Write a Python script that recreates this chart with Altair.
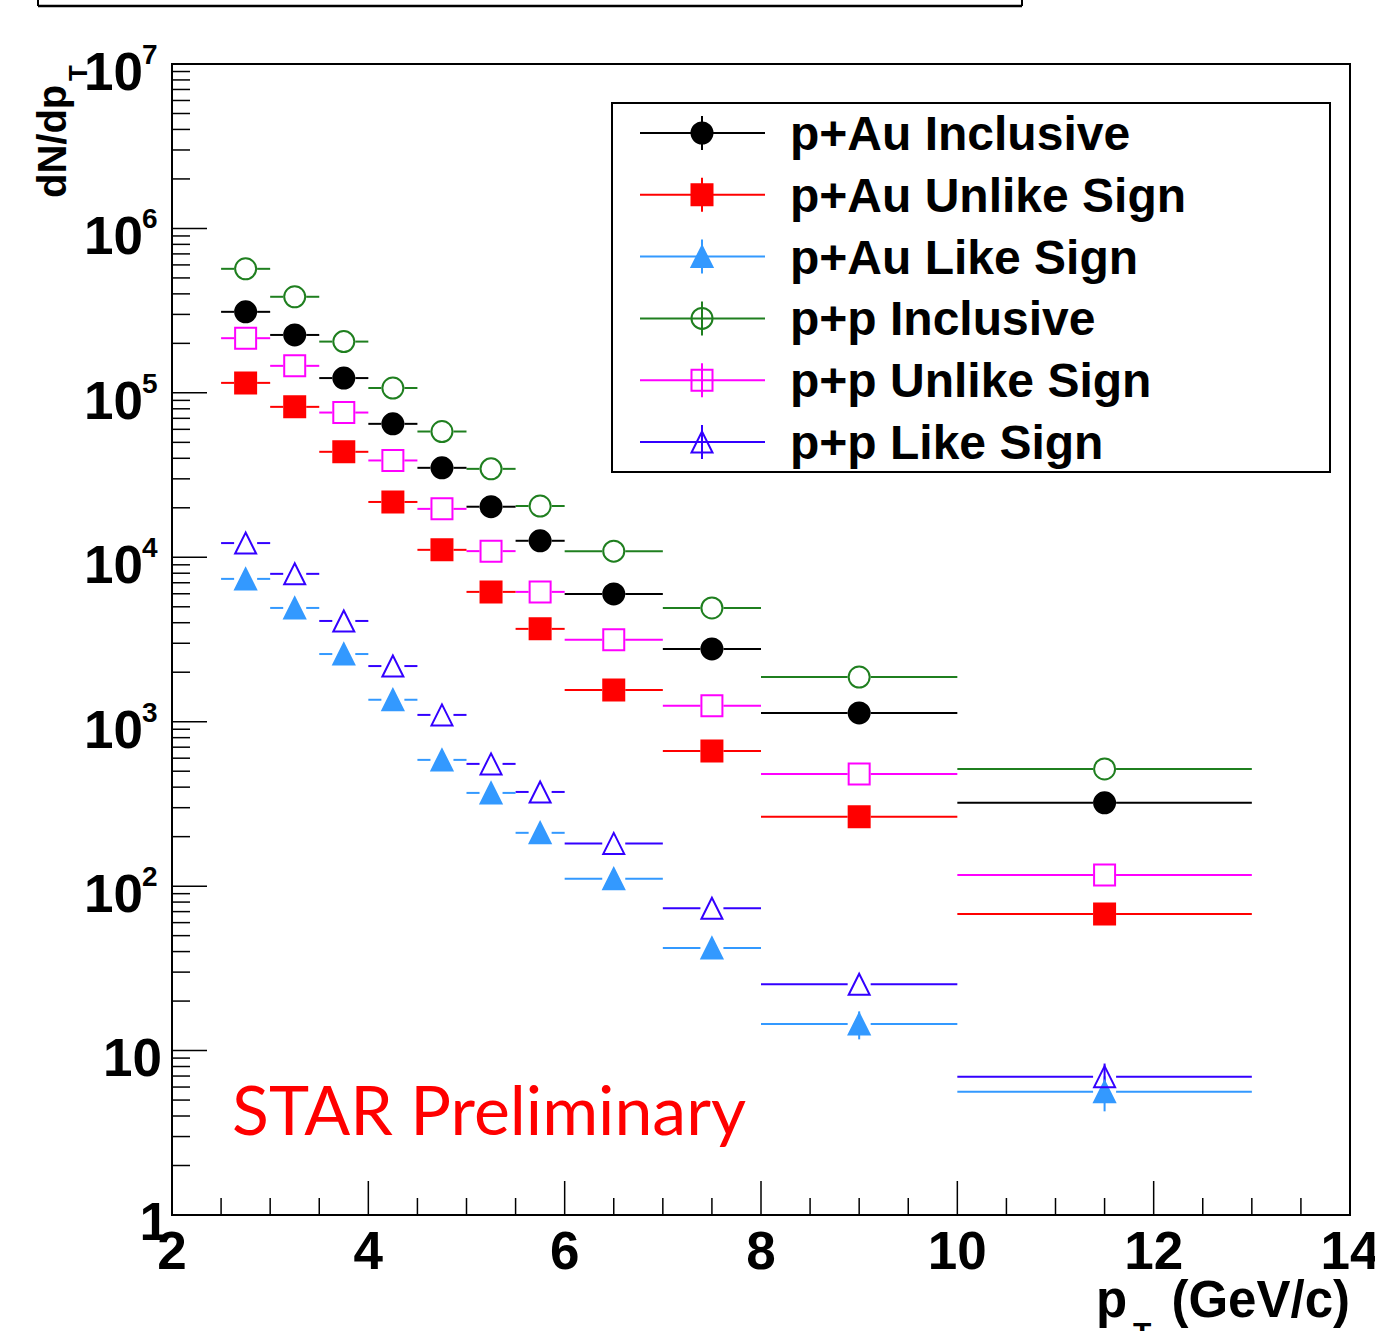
import altair as alt
import pandas as pd

# ---------------- data ----------------
pt_center = [2.75, 3.25, 3.75, 4.25, 4.75, 5.25, 5.75, 6.5, 7.5, 9.0, 11.5]
pt_low = [2.5, 3.0, 3.5, 4.0, 4.5, 5.0, 5.5, 6.0, 7.0, 8.0, 10.0]
pt_high = [3.0, 3.5, 4.0, 4.5, 5.0, 5.5, 6.0, 7.0, 8.0, 10.0, 13.0]

series_names = ["p+Au Inclusive", "p+Au Unlike Sign", "p+Au Like Sign",
                "p+p Inclusive", "p+p Unlike Sign", "p+p Like Sign"]

pau_inclusive = [3.11e5, 2.25e5, 1.23e5, 6.48e4, 3.50e4, 2.03e4, 1.26e4, 5.99e3, 2.77e3, 1.13e3, 321]
pau_unlike = [1.15e5, 8.22e4, 4.38e4, 2.17e4, 1.11e4, 6.16e3, 3.67e3, 1.56e3, 664, 264, 67.8]
pau_like = [7.39e3, 4.92e3, 2.58e3, 1.36e3, 586, 369, 211, 111, 42.1, 14.5, 5.62]
pp_inclusive = [5.68e5, 3.84e5, 2.05e5, 1.07e5, 5.82e4, 3.45e4, 2.05e4, 1.09e4, 4.92e3, 1.87e3, 516]
pp_unlike = [2.15e5, 1.46e5, 7.59e4, 3.88e4, 1.97e4, 1.09e4, 6.16e3, 3.15e3, 1.25e3, 481, 117]
pp_like = [1.22e4, 7.93e3, 4.10e3, 2.18e3, 1.10e3, 554, 374, 182, 73.4, 25.3, 6.94]

pau_inclusive_err = [0, 0, 0, 0, 0, 0, 0, 0, 0, 0, 0]
pau_unlike_err = [0, 0, 0, 0, 0, 0, 0, 0, 0, 0, 0]
pau_like_err = [0, 0, 0, 0, 0, 0, 0, 0, 1.0, 2.8, 1.35]
pp_inclusive_err = [0, 0, 0, 0, 0, 0, 0, 0, 0, 0, 0]
pp_unlike_err = [0, 0, 0, 0, 0, 0, 0, 0, 0, 0, 0]
pp_like_err = [0, 0, 0, 0, 0, 0, 0, 0, 0, 0, 1.4]

y_major_ticks = [1, 10, 100, 1e3, 1e4, 1e5, 1e6, 1e7]
y_label_base = ["1", "10", "10", "10", "10", "10", "10", "10"]
y_label_exp = ["", "", "2", "3", "4", "5", "6", "7"]
x_major_ticks = [2, 4, 6, 8, 10, 12, 14]
x_labels = ["2", "4", "6", "8", "10", "12", "14"]

# ---------------- styles ----------------
TRI = "M0,-1L-1,1L1,1Z"
series_colors = ["#000000", "#ff0000", "#3399ff", "#1f7f1f", "#ff00ff", "#3300ff"]
series_fills = ["#000000", "#ff0000", "#3399ff", "transparent", "transparent", "transparent"]
series_shapes = ["circle", "square", TRI, "circle", "square", TRI]

W, H = 1178, 1151
FONT = "Liberation Sans"

rows = []
for name, vals, errs in zip(series_names,
                            [pau_inclusive, pau_unlike, pau_like, pp_inclusive, pp_unlike, pp_like],
                            [pau_inclusive_err, pau_unlike_err, pau_like_err,
                             pp_inclusive_err, pp_unlike_err, pp_like_err]):
    for c, lo, hi, v, e in zip(pt_center, pt_low, pt_high, vals, errs):
        rows.append({"series": name, "pt": c, "lo": lo, "hi": hi, "value": v,
                     "err": e, "ylo": v - e, "yhi": v + e})
df = pd.DataFrame(rows)

xs = alt.Scale(domain=[2, 14], nice=False, zero=False)
ys = alt.Scale(type="log", domain=[1, 1e7], nice=False)
cs = alt.Scale(domain=series_names, range=series_colors)
fs = alt.Scale(domain=series_names, range=series_fills)
ss = alt.Scale(domain=series_names, range=series_shapes)

stroke_enc = alt.Stroke("series:N", scale=cs, legend=None)
fill_enc = alt.Fill("series:N", scale=fs, legend=None)
shape_enc = alt.Shape("series:N", scale=ss, legend=None)

base = alt.Chart(df)

left_seg = base.mark_rule(strokeWidth=2, x2Offset=-11.5).encode(
    x=alt.X("lo:Q", scale=xs, axis=None), x2="pt:Q",
    y=alt.Y("value:Q", scale=ys, axis=None), stroke=stroke_enc)
right_seg = base.mark_rule(strokeWidth=2, xOffset=11.5).encode(
    x=alt.X("pt:Q", scale=xs, axis=None), x2="hi:Q",
    y=alt.Y("value:Q", scale=ys, axis=None), stroke=stroke_enc)
vbars = base.transform_filter("datum.err > 0").mark_rule(strokeWidth=2).encode(
    x=alt.X("pt:Q", scale=xs, axis=None),
    y=alt.Y("ylo:Q", scale=ys, axis=None), y2="yhi:Q", stroke=stroke_enc)
points = base.mark_point(size=441, strokeWidth=2, opacity=1, filled=True).encode(
    x=alt.X("pt:Q", scale=xs, axis=None),
    y=alt.Y("value:Q", scale=ys, axis=None),
    shape=shape_enc, stroke=stroke_enc, fill=fill_enc)

# ---------------- ticks ----------------
y_minor = [m * d for d in y_major_ticks[:-1] for m in range(2, 10)]
x_minor = [x_major_ticks[0] + 0.5 * i for i in range(25) if (0.5 * i) % 2 != 0]

ytick_major = alt.Chart(pd.DataFrame({"v": y_major_ticks})).mark_rule(
    stroke="black", strokeWidth=1.5).encode(
    y=alt.Y("v:Q", scale=ys, axis=None), x=alt.value(0), x2=alt.value(35))
ytick_minor = alt.Chart(pd.DataFrame({"v": y_minor})).mark_rule(
    stroke="black", strokeWidth=1.5).encode(
    y=alt.Y("v:Q", scale=ys, axis=None), x=alt.value(0), x2=alt.value(18))
xtick_major = alt.Chart(pd.DataFrame({"v": x_major_ticks})).mark_rule(
    stroke="black", strokeWidth=1.5).encode(
    x=alt.X("v:Q", scale=xs, axis=None), y=alt.value(H), y2=alt.value(H - 34))
xtick_minor = alt.Chart(pd.DataFrame({"v": x_minor})).mark_rule(
    stroke="black", strokeWidth=1.5).encode(
    x=alt.X("v:Q", scale=xs, axis=None), y=alt.value(H), y2=alt.value(H - 17))

# ---------------- labels ----------------
ylab_df = pd.DataFrame({"v": y_major_ticks, "base": y_label_base, "exp": y_label_exp})
ylab_common = dict(font=FONT, fontWeight="bold", baseline="alphabetic", color="black")
ylab_one = alt.Chart(ylab_df).transform_filter("datum.base == '1'").mark_text(
    align="right", fontSize=53, dy=25, **ylab_common).encode(
    y=alt.Y("v:Q", scale=ys, axis=None), x=alt.value(-3), text="base:N")
ylab_ten = alt.Chart(ylab_df).transform_filter("datum.base == '10' && datum.exp == ''").mark_text(
    align="right", fontSize=53, dy=25, **ylab_common).encode(
    y=alt.Y("v:Q", scale=ys, axis=None), x=alt.value(-10), text="base:N")
ylab_pow_base = alt.Chart(ylab_df).transform_filter("datum.exp != ''").mark_text(
    align="right", fontSize=53, dy=26, **ylab_common).encode(
    y=alt.Y("v:Q", scale=ys, axis=None), x=alt.value(-29), text="base:N")
ylab_pow_exp = alt.Chart(ylab_df).transform_filter("datum.exp != ''").mark_text(
    align="left", fontSize=28, dy=0, **ylab_common).encode(
    y=alt.Y("v:Q", scale=ys, axis=None), x=alt.value(-30), text="exp:N")

xlab = alt.Chart(pd.DataFrame({"v": x_major_ticks, "t": x_labels})).mark_text(
    align="center", baseline="alphabetic", font=FONT, fontWeight="bold",
    fontSize=53, color="black").encode(
    x=alt.X("v:Q", scale=xs, axis=None), y=alt.value(H + 54), text="t:N")

one = alt.Data(values=[{}])
ytitle = alt.Chart(one).mark_text(
    text="dN/dp", angle=270, align="left", baseline="alphabetic", font=FONT,
    fontWeight="bold", fontSize=40, color="black").encode(
    x=alt.value(-106), y=alt.value(134))
ytitle_sub = alt.Chart(one).mark_text(
    text="T", angle=270, align="left", baseline="alphabetic", font=FONT,
    fontWeight="bold", fontSize=26, color="black").encode(
    x=alt.value(-85), y=alt.value(17))
xtitle_p = alt.Chart(one).mark_text(
    text="p", align="left", baseline="alphabetic", font=FONT,
    fontWeight="bold", fontSize=51, color="black").encode(
    x=alt.value(924), y=alt.value(H + 102))
xtitle_sub = alt.Chart(one).mark_text(
    text="T", align="left", baseline="alphabetic", font=FONT,
    fontWeight="bold", fontSize=30, color="black").encode(
    x=alt.value(961), y=alt.value(H + 128))
xtitle_rest = alt.Chart(one).mark_text(
    text="(GeV/c)", align="right", baseline="alphabetic", font=FONT,
    fontWeight="bold", fontSize=51, color="black").encode(
    x=alt.value(W), y=alt.value(H + 102))

star = alt.Chart(one).mark_text(
    text="STAR Preliminary", align="left", baseline="alphabetic", font="Lato",
    fontSize=68, color="#ff0000").encode(
    x=alt.value(60), y=alt.value(1071))

# top (cut-off) title box
topbox_h = alt.Chart(one).mark_rule(stroke="black", strokeWidth=2.5).encode(
    x=alt.value(-134), x2=alt.value(850), y=alt.value(-58))
topbox_l = alt.Chart(one).mark_rule(stroke="black", strokeWidth=2).encode(
    x=alt.value(-134), y=alt.value(-66), y2=alt.value(-58))
topbox_r = alt.Chart(one).mark_rule(stroke="black", strokeWidth=2).encode(
    x=alt.value(850), y=alt.value(-66), y2=alt.value(-58))

# ---------------- legend ----------------
leg_df = pd.DataFrame({"series": series_names, "row": list(range(len(series_names)))})
leg = alt.Chart(leg_df).transform_calculate(
    ly="69 + datum.row * 61.8", ly1="69 + datum.row * 61.8 - 17", ly2="69 + datum.row * 61.8 + 17")
leg_box = alt.Chart(one).mark_rect(fill="white", stroke="black", strokeWidth=2).encode(
    x=alt.value(440), x2=alt.value(1158), y=alt.value(39), y2=alt.value(408))
leg_line = leg.mark_rule(strokeWidth=2).encode(
    x=alt.value(468), x2=alt.value(593), y=alt.Y("ly:Q", scale=None, axis=None),
    stroke=stroke_enc)
leg_vbar = leg.mark_rule(strokeWidth=2).encode(
    x=alt.value(530), y=alt.Y("ly1:Q", scale=None, axis=None), y2="ly2:Q",
    stroke=stroke_enc)
leg_pt = leg.mark_point(size=441, strokeWidth=2, opacity=1, filled=True).encode(
    x=alt.value(530), y=alt.Y("ly:Q", scale=None, axis=None),
    shape=shape_enc, stroke=stroke_enc, fill=fill_enc)
leg_text = leg.mark_text(align="left", baseline="alphabetic", dy=17, font=FONT,
                         fontWeight="bold", fontSize=48, color="black").encode(
    x=alt.value(618), y=alt.Y("ly:Q", scale=None, axis=None), text="series:N")

chart = alt.layer(
    ytick_minor, ytick_major, xtick_minor, xtick_major,
    left_seg, right_seg, vbars, points,
    ylab_one, ylab_ten, ylab_pow_base, ylab_pow_exp, xlab,
    ytitle, ytitle_sub, xtitle_p, xtitle_sub, xtitle_rest, star,
    topbox_h, topbox_l, topbox_r,
    leg_box, leg_line, leg_vbar, leg_pt, leg_text,
).properties(
    width=W, height=H,
    autosize=alt.AutoSizeParams(type="none"),
    padding={"left": 172, "top": 64, "right": 25, "bottom": 116},
    background="white",
).configure_view(stroke="black", strokeWidth=2)

chart.save("out.html", embed_options={"renderer": "svg", "actions": False})
